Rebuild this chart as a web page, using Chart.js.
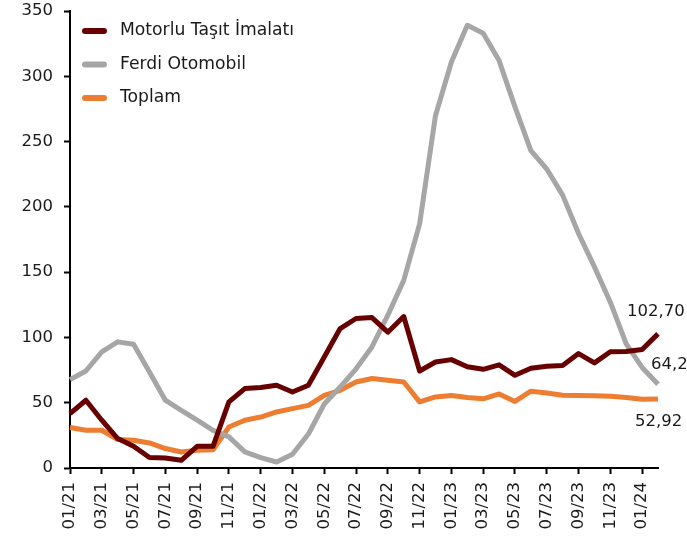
<!DOCTYPE html>
<html lang="tr">
<head>
<meta charset="UTF-8">
<title>Motorlu Taşıt İmalatı</title>
<script src="https://cdn.jsdelivr.net/npm/chart.js"></script>
<style>
  html, body { margin: 0; padding: 0; background: #fff; }
  #c { display: block; }
</style>
</head>
<body>
<canvas id="c" width="687" height="545"></canvas>
<script>
// months, 01/21 .. 02/24
const months = [
  '01/21','02/21','03/21','04/21','05/21','06/21','07/21','08/21','09/21','10/21','11/21','12/21',
  '01/22','02/22','03/22','04/22','05/22','06/22','07/22','08/22','09/22','10/22','11/22','12/22',
  '01/23','02/23','03/23','04/23','05/23','06/23','07/23','08/23','09/23','10/23','11/23','12/23',
  '01/24','02/24'
];

const motorlu = [
  41.7, 51.9, 36.6, 22.5, 16.6, 8.0, 7.7, 5.9, 16.6, 16.6, 50.6, 60.8,
  61.6, 63.4, 58.2, 63.4, 85.0, 106.8, 114.5, 115.2, 104.0, 116.0, 74.3, 81.2,
  83.0, 77.5, 75.6, 79.0, 71.0, 76.4, 78.0, 78.5, 87.6, 80.5, 89.0, 89.2,
  90.7, 102.70
];

const ferdi = [
  67.7, 74.3, 89.0, 96.6, 94.8, 73.6, 51.9, 44.2, 36.6, 28.9, 23.8, 12.3,
  8.0, 4.6, 10.5, 26.0, 49.0, 62.0, 76.0, 92.7, 117.0, 143.7, 187.0, 270.0,
  311.0, 339.0, 333.0, 312.0, 276.6, 243.0, 229.0, 209.0, 179.6, 154.0, 127.0, 95.0,
  77.0, 64.2
];

const toplam = [
  31.0, 28.9, 28.9, 21.8, 21.2, 19.2, 14.9, 12.3, 13.6, 13.9, 31.4, 36.6,
  39.0, 42.9, 45.5, 48.0, 55.7, 59.5, 65.9, 68.5, 67.2, 65.9, 50.6, 54.4,
  55.5, 54.0, 53.0, 56.7, 51.0, 58.8, 57.5, 55.7, 55.5, 55.3, 55.0, 54.0,
  52.6, 52.92
];

const endLabels = ['102,70', '64,2', '52,92'];
const yTicks = [0, 50, 100, 150, 200, 250, 300, 350];

const FONT = '"DejaVu Sans", sans-serif';
const FSIZE = 16.5;

// legend drawn inside the plot area, top-left
const legendPlugin = {
  id: 'innerLegend',
  afterDraw(chart) {
    const ctx = chart.ctx;
    ctx.save();
    chart.data.datasets.forEach((ds, i) => {
      const y = 31 + i * 33.5;
      ctx.strokeStyle = ds.borderColor;
      ctx.lineWidth = 6;
      ctx.lineCap = 'round';
      ctx.beginPath();
      ctx.moveTo(85, y);
      ctx.lineTo(104, y);
      ctx.stroke();
      ctx.fillStyle = '#1a1a1a';
      ctx.font = '17.2px ' + FONT;
      ctx.textBaseline = 'middle';
      ctx.textAlign = 'left';
      ctx.fillText(ds.label, 120, y);
    });
    ctx.restore();
  }
};

// value labels at last point
const endLabelPlugin = {
  id: 'endLabels',
  afterDatasetsDraw(chart) {
    const ctx = chart.ctx;
    const offs = [[-31, -22], [-7, -19], [-23, 23]];
    ctx.save();
    ctx.font = FSIZE + 'px ' + FONT;
    ctx.fillStyle = '#1a1a1a';
    ctx.textBaseline = 'middle';
    ctx.textAlign = 'left';
    chart.data.datasets.forEach((ds, i) => {
      const meta = chart.getDatasetMeta(i);
      const pt = meta.data[meta.data.length - 1];
      ctx.fillText(endLabels[i], pt.x + offs[i][0], pt.y + offs[i][1]);
    });
    ctx.restore();
  }
};

new Chart(document.getElementById('c'), {
  type: 'line',
  data: {
    labels: months,
    datasets: [
      { label: 'Motorlu Taşıt İmalatı', data: motorlu, borderColor: '#670000' },
      { label: 'Ferdi Otomobil', data: ferdi, borderColor: '#a6a6a6' },
      { label: 'Toplam', data: toplam, borderColor: '#ed7d31' }
    ]
  },
  options: {
    responsive: false,
    animation: false,
    layout: { padding: { left: 0, top: 11, right: 29, bottom: 0 } },
    elements: {
      point: { radius: 0 },
      line: { borderWidth: 5, tension: 0, borderJoinStyle: 'round', borderCapStyle: 'butt' }
    },
    plugins: {
      legend: { display: false },
      tooltip: { enabled: false }
    },
    scales: {
      x: {
        offset: false,
        afterFit: s => { s.height = 77; s.paddingTop = 0; },
        grid: {
          drawOnChartArea: false,
          drawTicks: true,
          tickLength: 6,
          tickWidth: 2,
          tickColor: c => (c.index % 2 ? 'rgba(0,0,0,0)' : '#000')
        },
        border: { display: true, color: '#000', width: 2 },
        ticks: {
          autoSkip: false,
          minRotation: 90,
          maxRotation: 90,
          padding: 8,
          color: '#1a1a1a',
          font: { family: FONT, size: FSIZE },
          callback: function (v, i) { return i % 2 ? '' : this.getLabelForValue(v); }
        }
      },
      y: {
        min: 0,
        max: 350,
        afterFit: s => { s.width = 70; s.paddingTop = 0; s.paddingBottom = 0; },
        afterBuildTicks: s => { s.ticks = yTicks.map(v => ({ value: v })); },
        grid: {
          drawOnChartArea: false,
          drawTicks: true,
          tickLength: 6,
          tickWidth: 2,
          tickColor: '#000'
        },
        border: { display: true, color: '#000', width: 2 },
        ticks: {
          padding: 11,
          color: '#1a1a1a',
          font: { family: FONT, size: FSIZE }
        }
      }
    }
  },
  plugins: [legendPlugin, endLabelPlugin]
});
</script>
</body>
</html>
